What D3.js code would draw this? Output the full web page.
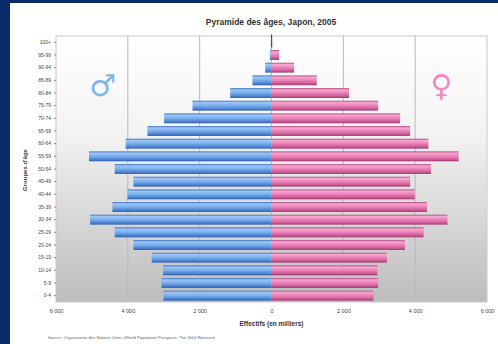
<!DOCTYPE html>
<html><head><meta charset="utf-8">
<script src="https://cdn.jsdelivr.net/npm/d3@7"></script>
<style>
html,body{margin:0;padding:0;background:#0b2b68;}
svg{display:block;}
</style></head>
<body>
<svg id="c" width="498" height="344"></svg>
<script>
const ageGroups = ["0-4","5-9","10-14","15-19","20-24","25-29","30-34","35-39","40-44","45-49","50-54","55-59","60-64","65-69","70-74","75-79","80-84","85-89","90-94","95-99","100+"];
const maleValues = [3010,3065,3020,3335,3845,4365,5050,4430,4010,3845,4365,5080,4060,3455,2990,2200,1150,530,176,40,5];
const femaleValues = [2840,2970,2950,3215,3715,4235,4900,4330,3990,3860,4440,5210,4370,3860,3580,2970,2160,1260,630,214,22];
const xTicks = [-6000,-4000,-2000,0,2000,4000,6000];
const title = "Pyramide des âges, Japon, 2005";
const xTitle = "Effectifs (en milliers)";
const yTitle = "Groupes d'âge";
const source = "Source: Organisation des Nations Unies (World Population Prospects: The 2004 Revision)";

const svg = d3.select("#c");
const W = 498, H = 344;
const m = {left:56, right:11, top:36, bottom:42};
const pw = W - m.left - m.right, ph = H - m.top - m.bottom;

// white panel
svg.append("rect").attr("x",10).attr("y",3).attr("width",W-10).attr("height",H-3).attr("fill","#ffffff");

const defs = svg.append("defs");
const bg = defs.append("linearGradient").attr("id","bg").attr("x1",0).attr("y1",0).attr("x2",0).attr("y2",1);
bg.append("stop").attr("offset","0%").attr("stop-color","#ffffff");
bg.append("stop").attr("offset","35%").attr("stop-color","#f4f4f4");
bg.append("stop").attr("offset","100%").attr("stop-color","#bdbdbd");

function barGrad(id, c){
  const g = defs.append("linearGradient").attr("id",id).attr("x1",0).attr("y1",0).attr("x2",0).attr("y2",1);
  g.append("stop").attr("offset","0%").attr("stop-color",c[0]);
  g.append("stop").attr("offset","18%").attr("stop-color",c[1]);
  g.append("stop").attr("offset","45%").attr("stop-color",c[2]);
  g.append("stop").attr("offset","80%").attr("stop-color",c[3]);
  g.append("stop").attr("offset","100%").attr("stop-color",c[4]);
}
barGrad("gm", ["#3d6fc0","#9cc6f6","#7fb2ee","#4f86d6","#2c5aa6"]);
barGrad("gf", ["#b04a82","#f7a6cf","#ec88bb","#cf5c98","#98386c"]);

const g = svg.append("g").attr("transform",`translate(${m.left},${m.top})`);
const x = d3.scaleLinear().domain([-6000,6000]).range([0,pw]);
const y = d3.scaleBand().domain(ageGroups.slice().reverse()).range([0,ph]).paddingInner(0.22).paddingOuter(0.11);

g.append("rect").attr("width",pw).attr("height",ph).attr("fill","url(#bg)").attr("stroke","#c8c8c8").attr("stroke-width",1);

// gridlines
g.selectAll("line.grid").data(xTicks.filter(t=>t!==-6000 && t!==6000)).join("line")
  .attr("class","grid").attr("x1",d=>x(d)).attr("x2",d=>x(d)).attr("y1",0).attr("y2",ph)
  .attr("stroke","#b8b8b8").attr("stroke-width",1);

// symbols
g.append("text").attr("x",x(-4700)).attr("y",y("80-84")+8).attr("text-anchor","middle")
  .attr("font-family","DejaVu Sans").attr("font-size",30).attr("fill","#7fb6ec").text("♂");
g.append("text").attr("x",x(4730)).attr("y",y("80-84")+8).attr("text-anchor","middle")
  .attr("font-family","DejaVu Sans").attr("font-size",30).attr("fill","#f08bbf").text("♀");

// bars
g.selectAll("rect.m").data(ageGroups.map((a,i)=>({a,v:maleValues[i]}))).join("rect")
  .attr("class","m").attr("x",d=>x(-d.v)).attr("y",d=>y(d.a)).attr("width",d=>x(0)-x(-d.v))
  .attr("height",y.bandwidth()).attr("fill","url(#gm)");
g.selectAll("rect.f").data(ageGroups.map((a,i)=>({a,v:femaleValues[i]}))).join("rect")
  .attr("class","f").attr("x",x(0)).attr("y",d=>y(d.a)).attr("width",d=>x(d.v)-x(0))
  .attr("height",y.bandwidth()).attr("fill","url(#gf)");
// center dark line for tiny top bar
g.append("line").attr("x1",x(0)).attr("x2",x(0)).attr("y1",y("100+")-3).attr("y2",y("100+")+y.bandwidth())
  .attr("stroke","#5a4a5a").attr("stroke-width",1.2);

// axes
const xAxis = d3.axisBottom(x).tickValues(xTicks).tickSize(0).tickPadding(7)
  .tickFormat(d=>d===0?"0":d3.format(",")(Math.abs(d)).replace(","," "));
const xa = g.append("g").attr("transform",`translate(0,${ph})`).call(xAxis);
xa.select(".domain").remove();
xa.selectAll("text").attr("font-family","Liberation Sans").attr("font-size",5.5).attr("fill","#444");

const yAxis = d3.axisLeft(y).tickSize(2).tickPadding(3);
const ya = g.append("g").call(yAxis);
ya.select(".domain").remove();
ya.selectAll("line").attr("stroke","#888");
ya.selectAll("text").attr("font-family","Liberation Sans").attr("font-size",5).attr("fill","#444");

// titles
svg.append("text").attr("x",271).attr("y",25).attr("text-anchor","middle")
  .attr("font-family","Liberation Sans").attr("font-weight","bold").attr("font-size",8.5).attr("fill","#333").text(title);
svg.append("text").attr("x",m.left+x(0)).attr("y",326).attr("text-anchor","middle")
  .attr("font-family","Liberation Sans").attr("font-weight","bold").attr("font-size",6.5).attr("fill","#333").text(xTitle);
svg.append("text").attr("x",48).attr("y",339)
  .attr("font-family","Liberation Sans").attr("font-size",4.2).attr("fill","#666").text(source);
svg.append("text").attr("transform","translate(27,170) rotate(-90)").attr("text-anchor","middle")
  .attr("font-family","Liberation Sans").attr("font-weight","bold").attr("font-size",6).attr("fill","#444").text(yTitle);
</script>
</body></html>
